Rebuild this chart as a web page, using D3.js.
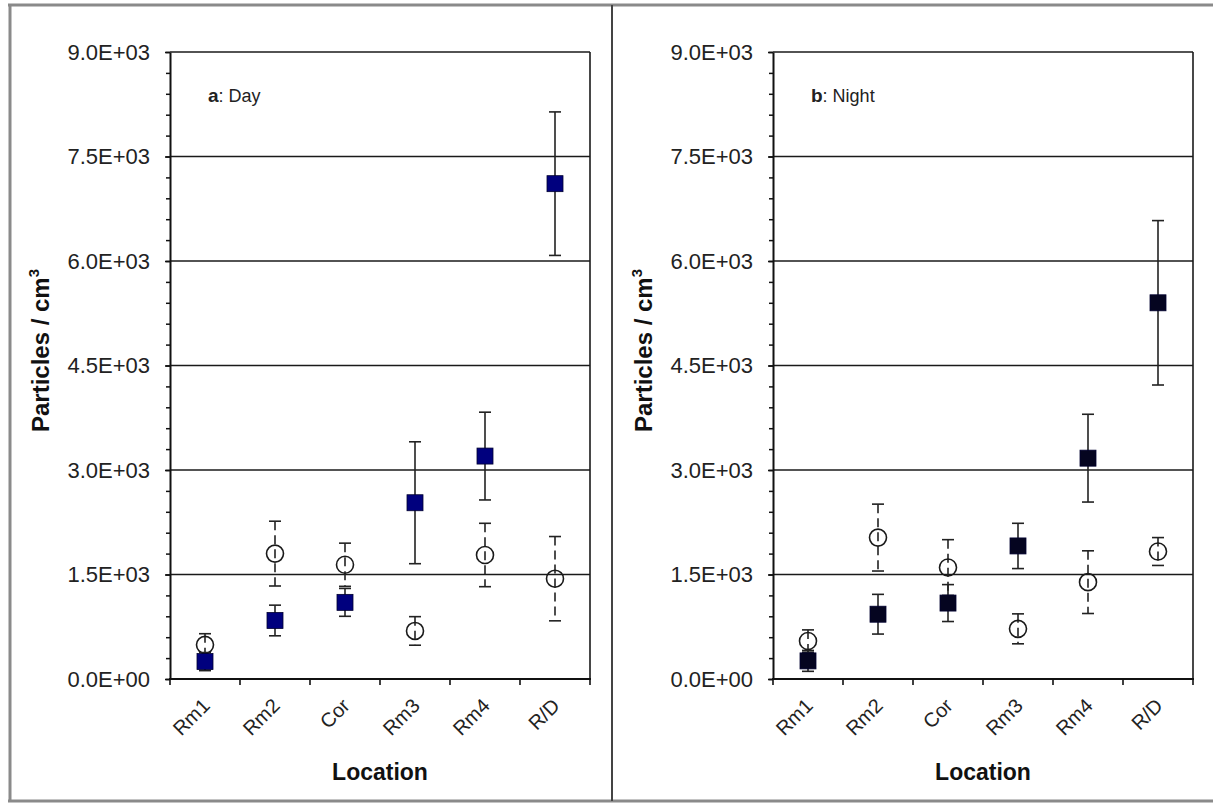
<!DOCTYPE html>
<html>
<head>
<meta charset="utf-8">
<script src="https://cdn.jsdelivr.net/npm/d3@7"></script>
<style>
  body { margin: 0; background: #fff; }
  svg { display: block; font-family: "Liberation Sans", Arial, sans-serif; }
</style>
</head>
<body>
<div id="chart"></div>
<script>
// categories along the x axis
var categories = ["Rm1", "Rm2", "Cor", "Rm3", "Rm4", "R/D"];
var yTicks = [0, 1500, 3000, 4500, 6000, 7500, 9000];

// panel a: Day
var daySquareMean = [250, 840, 1100, 2530, 3200, 7110];
var daySquareErr  = [130, 220, 200, 875, 630, 1030];
var dayCircleMean = [490, 1800, 1640, 690, 1780, 1440];
var dayCircleErr  = [160, 465, 310, 205, 455, 605];

// panel b: Night
var nightSquareMean = [260, 930, 1090, 1910, 3170, 5400];
var nightSquareErr  = [150, 285, 265, 325, 630, 1180];
var nightCircleMean = [545, 2030, 1600, 720, 1390, 1830];
var nightCircleErr  = [160, 480, 400, 215, 450, 200];

var panels = [
  { left: 170, label: "a", title: "Day", sqMean: daySquareMean, sqErr: daySquareErr,
    ciMean: dayCircleMean, ciErr: dayCircleErr, sqColor: "#00007e" },
  { left: 773, label: "b", title: "Night", sqMean: nightSquareMean, sqErr: nightSquareErr,
    ciMean: nightCircleMean, ciErr: nightCircleErr, sqColor: "#050520" }
];

var W = 1213, H = 803;
var plotTop = 52, plotW = 420, plotH = 627;

function fmt(v) {
  var parts = v.toExponential(1).split("e");
  var e = +parts[1];
  return parts[0] + "E" + (e < 0 ? "-" : "+") + String(Math.abs(e)).padStart(2, "0");
}

var svg = d3.select("#chart").append("svg")
  .attr("width", W)
  .attr("height", H);

// outer frame
svg.append("line").attr("x1", 8).attr("x2", W).attr("y1", 5).attr("y2", 5)
  .attr("stroke", "#8a8a8a").attr("stroke-width", 3);
svg.append("line").attr("x1", 10).attr("x2", 10).attr("y1", 4).attr("y2", 801)
  .attr("stroke", "#8a8a8a").attr("stroke-width", 3);
svg.append("line").attr("x1", 8).attr("x2", W).attr("y1", 801).attr("y2", 801)
  .attr("stroke", "#8a8a8a").attr("stroke-width", 3);
svg.append("line").attr("x1", 612).attr("x2", 612).attr("y1", 5).attr("y2", 801)
  .attr("stroke", "#444").attr("stroke-width", 2);

var x = d3.scaleBand().domain(categories).range([0, plotW]);
var y = d3.scaleLinear().domain([0, 9000]).range([plotH, 0]);
var cx = function (c) { return x(c) + x.bandwidth() / 2; };

panels.forEach(function (p) {
  var g = svg.append("g")
    .attr("transform", "translate(" + p.left + "," + plotTop + ")");

  // gridlines
  g.append("g")
    .selectAll("line")
    .data(yTicks.slice(1))
    .enter().append("line")
    .attr("x1", 0).attr("x2", plotW)
    .attr("y1", function (d) { return y(d); })
    .attr("y2", function (d) { return y(d); })
    .attr("stroke", "#1a1a1a").attr("stroke-width", 1.6);

  // right border
  g.append("line").attr("x1", plotW).attr("x2", plotW).attr("y1", 0).attr("y2", plotH)
    .attr("stroke", "#1a1a1a").attr("stroke-width", 1.6);

  // minor y ticks
  g.append("g")
    .call(d3.axisLeft(y).tickValues(d3.range(0, 9001, 300)).tickSize(4).tickFormat(""))
    .call(function (a) { a.select(".domain").remove(); })
    .selectAll("line").attr("stroke", "#111").attr("stroke-width", 1.5);

  // y axis
  var yAxis = g.append("g")
    .call(d3.axisLeft(y).tickValues(yTicks).tickSize(5).tickSizeOuter(0).tickPadding(15).tickFormat(fmt));
  yAxis.select(".domain").attr("stroke", "#111").attr("stroke-width", 2);
  yAxis.selectAll(".tick line").attr("stroke", "#111").attr("stroke-width", 1.6);
  yAxis.selectAll("text")
    .attr("font-size", 22).attr("fill", "#222")
    .attr("font-family", "'Liberation Sans', Arial, sans-serif");

  // x axis
  g.append("line").attr("x1", -1).attr("x2", plotW + 1).attr("y1", plotH).attr("y2", plotH)
    .attr("stroke", "#111").attr("stroke-width", 2.2);
  var bounds = categories.map(function (c) { return x(c); }).concat([plotW]);
  g.append("g").selectAll("line")
    .data(bounds)
    .enter().append("line")
    .attr("x1", function (d) { return d; }).attr("x2", function (d) { return d; })
    .attr("y1", plotH).attr("y2", plotH + 6)
    .attr("stroke", "#111").attr("stroke-width", 1.6);

  g.append("g").selectAll("text")
    .data(categories)
    .enter().append("text")
    .attr("transform", function (c) { return "translate(" + (cx(c) + 6) + "," + (plotH + 28) + ") rotate(-45)"; })
    .attr("text-anchor", "end")
    .attr("font-size", 20).attr("fill", "#222")
    .text(function (c) { return c; });

  // axis titles
  g.append("text")
    .attr("x", plotW / 2).attr("y", 728)
    .attr("text-anchor", "middle")
    .attr("font-size", 23).attr("font-weight", "bold").attr("fill", "#111")
    .text("Location");

  var yl = g.append("text")
    .attr("transform", "translate(-121," + (plotH / 2 - 15) + ") rotate(-90)")
    .attr("text-anchor", "middle")
    .attr("font-size", 24).attr("font-weight", "bold").attr("fill", "#111");
  yl.append("tspan").text("Particles / cm");
  yl.append("tspan").attr("font-size", 15).attr("dy", -10).text("3");

  // panel label
  var pl = g.append("text")
    .attr("x", 38).attr("y", 50)
    .attr("font-size", 18).attr("fill", "#222");
  pl.append("tspan").attr("font-weight", "bold").attr("font-size", 19).text(p.label);
  pl.append("tspan").text(": " + p.title);

  // error bars + markers
  function errBars(mean, err, dash) {
    var eb = g.append("g").selectAll("g")
      .data(categories)
      .enter().append("g")
      .attr("stroke", "#222").attr("stroke-width", 1.6);
    eb.append("line")
      .attr("x1", cx).attr("x2", cx)
      .attr("y1", function (c, i) { return y(mean[i] + err[i]); })
      .attr("y2", function (c, i) { return y(mean[i] - err[i]); })
      .attr("stroke-dasharray", dash);
    [1, -1].forEach(function (s) {
      eb.append("line")
        .attr("x1", function (c) { return cx(c) - 6; })
        .attr("x2", function (c) { return cx(c) + 6; })
        .attr("y1", function (c, i) { return y(mean[i] + s * err[i]); })
        .attr("y2", function (c, i) { return y(mean[i] + s * err[i]); });
    });
  }

  errBars(p.ciMean, p.ciErr, "9,5");
  g.append("g").selectAll("circle")
    .data(categories)
    .enter().append("circle")
    .attr("cx", cx)
    .attr("cy", function (c, i) { return y(p.ciMean[i]); })
    .attr("r", 8.5)
    .attr("fill", "none").attr("stroke", "#1a1a1a").attr("stroke-width", 1.6);

  errBars(p.sqMean, p.sqErr, null);
  g.append("g").selectAll("rect")
    .data(categories)
    .enter().append("rect")
    .attr("x", function (c) { return cx(c) - 8; })
    .attr("y", function (c, i) { return y(p.sqMean[i]) - 8; })
    .attr("width", 16).attr("height", 16)
    .attr("fill", p.sqColor).attr("stroke", "#000030").attr("stroke-width", 0.8);
});
</script>
</body>
</html>
